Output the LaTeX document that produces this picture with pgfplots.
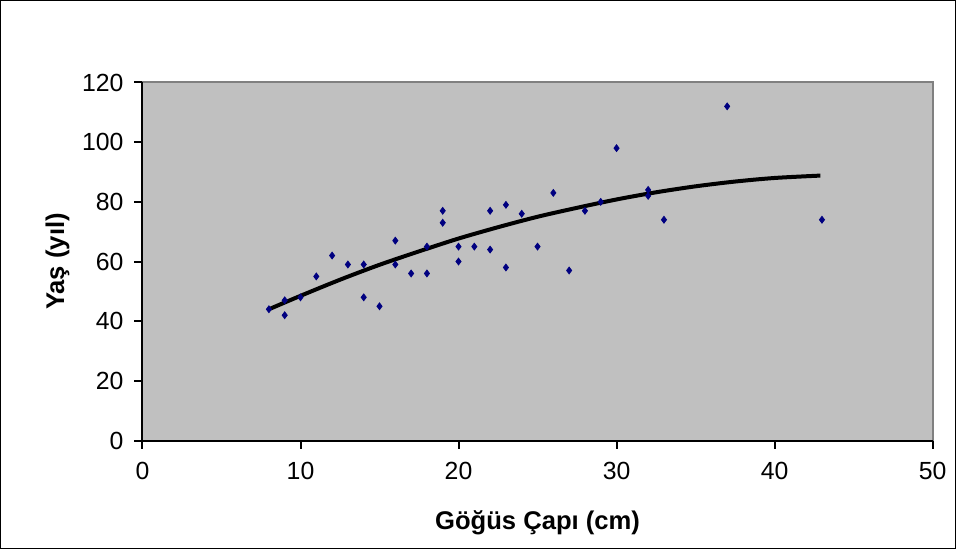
\documentclass[border=0pt]{standalone}
\usepackage{fontspec}
\setmainfont{Liberation Sans}
\usepackage{pgfplots}
\pgfplotsset{compat=1.18}
\definecolor{plotgray}{HTML}{C0C0C0}
\definecolor{framegray}{HTML}{808080}
\definecolor{dotblue}{HTML}{000080}

\begin{document}
\begin{tikzpicture}
\begin{axis}[
    scale only axis,
    width=395pt, height=179pt,
    xmin=0, xmax=50, ymin=0, ymax=120,
    xtick={0,10,20,30,40,50},
    ytick={0,20,40,60,80,100,120},
    axis x line*=bottom, axis y line*=left,
    axis line style={-, black, line width=1pt},
    axis background/.style={fill=plotgray, draw=framegray, line width=1pt},
    tick align=outside,
    major tick length=4pt,
    tick style={black, line width=1pt},
    /pgf/number format/assume math mode=true,
    ticklabel style={font=\fontsize{12.4}{14}\selectfont},
    xticklabel style={yshift=-3.5pt},
    yticklabel style={xshift=-2pt},
    xlabel={Göğüs Çapı (cm)},
    ylabel={Yaş (yıl)},
    label style={font=\fontsize{12.8}{15}\selectfont\bfseries},
    xlabel style={at={(rel axis cs:0.5,-0.229)}, anchor=center},
    ylabel style={at={(rel axis cs:-0.1076,0.5)}, anchor=center},
    clip=false,
]
% gözlemler
\addplot[only marks, mark=diamond*, mark size=1.7pt, color=dotblue] coordinates {
    (8,44)(9,47)(9,42)(10,48)(11,55)(12,62)(13,59)(14,59)(14,48)(15,45)
    (16,67)(16,59)(17,56)(18,56)(18,65)(19,77)(19,73)(20,65)(20,60)(21,65)
    (22,77)(22,64)(23,79)(23,58)(24,76)(25,65)(26,83)(27,57)(28,77)(29,80)
    (30,98)(32,84)(32,82)(33,74)(37,112)(43,74)
};
% polinom eğilim çizgisi
\addplot[black, line width=2pt, smooth] coordinates {
    (8,44)(10,48.5)(12.5,53.9)(15,58.9)(17.5,63.4)(20,67.7)(22.5,71.5)(25,75)
    (27.5,78)(30,80.8)(32.5,83.2)(35,85.2)(37.5,86.8)(40,88)(42.9,88.8)
};
\draw[black, line width=0.5pt] (rel axis cs:-0.1797,-0.3017) rectangle (rel axis cs:1.029,1.229);
\end{axis}
\end{tikzpicture}
\end{document}
